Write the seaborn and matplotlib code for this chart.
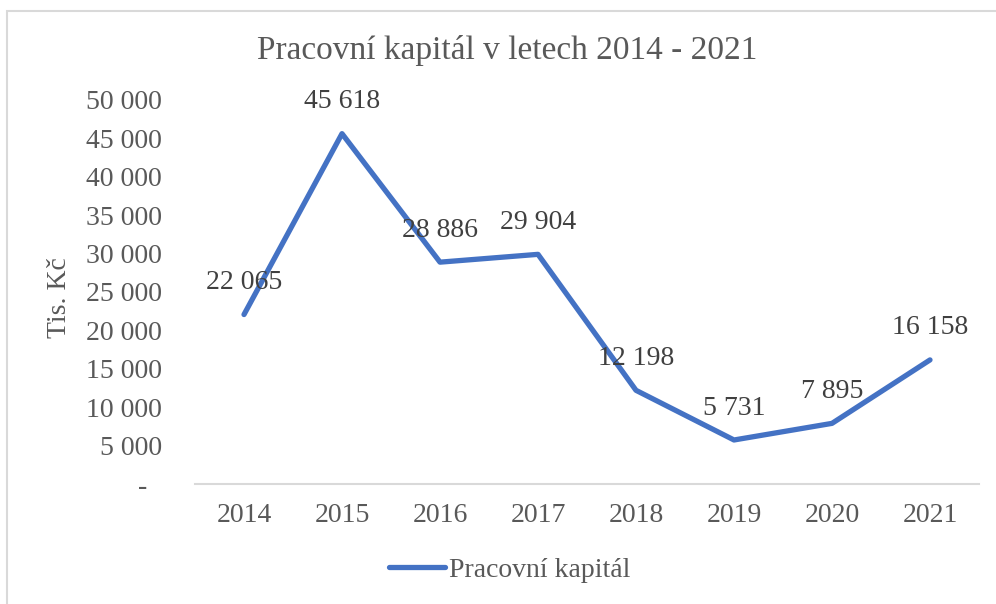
import matplotlib
matplotlib.use("Agg")
import matplotlib.pyplot as plt
import seaborn as sns
import pandas as pd
from matplotlib.patches import Rectangle

# data
years = ["2014", "2015", "2016", "2017", "2018", "2019", "2020", "2021"]
kapital = [22065, 45618, 28886, 29904, 12198, 5731, 7895, 16158]
y_ticks = [0, 5000, 10000, 15000, 20000, 25000, 30000, 35000, 40000, 45000, 50000]

df = pd.DataFrame({"rok": years, "kapital": kapital})

sns.set_style("white")
plt.rcParams["font.family"] = ["Liberation Serif", "DejaVu Serif"]

text_col = "#595959"
line_col = "#4472C4"

def fmt(v):
    return "-  " if v == 0 else f"{v:,}".replace(",", " ")

fig = plt.figure(figsize=(9.96, 6.04), dpi=100)
ax = fig.add_axes([195 / 996, 1 - 484 / 604, (979 - 195) / 996, 384 / 604])

sns.lineplot(data=df, x="rok", y="kapital", sort=False, color=line_col,
             linewidth=3.8, ax=ax, label="Pracovní kapitál", legend=False)

# data labels above points
for i, v in enumerate(kapital):
    ax.annotate(fmt(v), (i, v), xytext=(0, 23), textcoords="offset points",
                ha="center", va="center", fontsize=20, color="#404040")

ax.set_xlim(-0.5, len(years) - 0.5)
ax.set_ylim(0, 50000)
ax.set_yticks(y_ticks)
ax.set_yticklabels([fmt(v) for v in y_ticks])
ax.tick_params(axis="both", length=0, labelsize=20, labelcolor=text_col)
ax.tick_params(axis="y", pad=24)
ax.tick_params(axis="x", pad=14)
ax.set_xlabel("")
ax.set_ylabel("")
for s in ["top", "right", "left"]:
    ax.spines[s].set_visible(False)
ax.spines["bottom"].set_color("#D9D9D9")
ax.spines["bottom"].set_linewidth(1.5)

fig.text(60 / 996, 1 - 298 / 604, "Tis. Kč", rotation=90, ha="center", va="center",
         fontsize=20, color=text_col)
fig.text(507 / 996, 1 - 50 / 604, "Pracovní kapitál v letech 2014 - 2021",
         ha="center", va="center", fontsize=24, color=text_col)

handles, labels = ax.get_legend_handles_labels()
leg = fig.legend(handles, labels, loc="center", bbox_to_anchor=(510 / 996, 1 - 570 / 604),
                 frameon=False, fontsize=20, handlelength=2.0, handletextpad=0.15)
for t in leg.get_texts():
    t.set_color(text_col)

# chart border (only left and top edges fall inside the image)
fig.patches.append(Rectangle((7 / 996, -0.1), 1.1, 1.1 - 11 / 604, transform=fig.transFigure,
                             fill=False, edgecolor="#D9D9D9", linewidth=1.5))

fig.savefig("out.png", dpi=100)
